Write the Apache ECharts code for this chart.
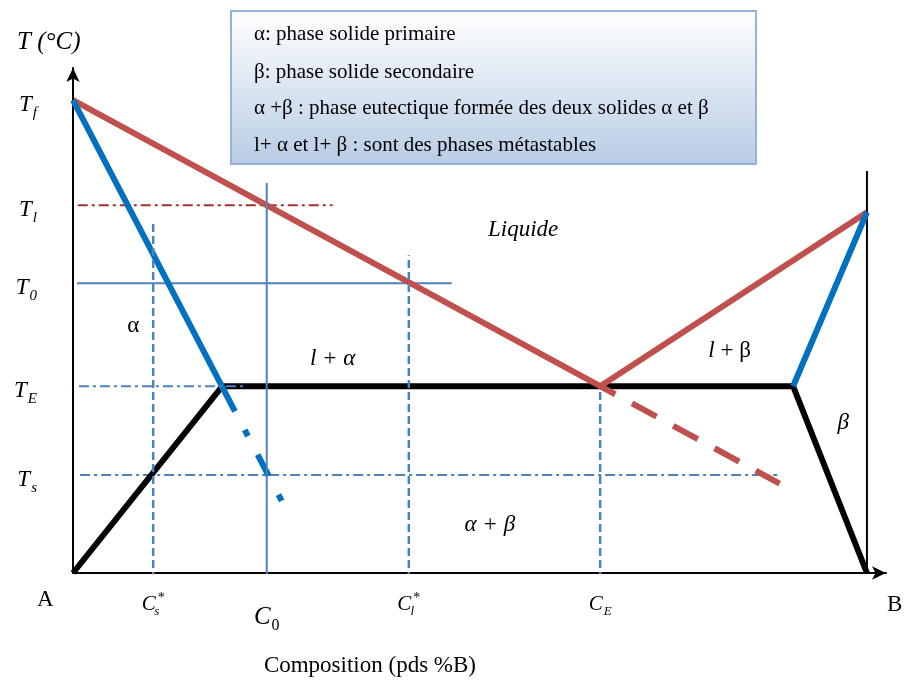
<!DOCTYPE html>
<html>
<head>
<meta charset="utf-8">
<script src="https://cdn.jsdelivr.net/npm/echarts@6/dist/echarts.min.js"></script>
<style>
  html, body { margin: 0; padding: 0; background: #ffffff; }
  #chart { width: 906px; height: 684px; }
</style>
</head>
<body>
<div id="chart"></div>
<script>
const SERIF = '"Liberation Serif", "Times New Roman", serif';

// Characteristic compositions (% B) and their tick labels
const compValues = [10.1, 24.4, 42.3, 66.4];
const compLabels = ['{m|C}{z|s}{sup|*}', '{mb|C}{n|0}', '{m|C}{z|l}{sup|*}', '{m|C}{s|E}'];

// Characteristic temperatures and their tick labels
const tempValues = [100, 77.8, 61.3, 39.5, 20.7];
const tempLabels = ['{m|T}{s|f}', '{m|T}{s|l}', '{m|T}{s|0}', '{m|T}{s|E}', '{m|T}{s|s}'];

// Phase boundaries, points are [composition, temperature]
const liquidusA = [[0, 100], [66.4, 39.5], [68.3, 37.8]];
const liquidusAMetastable = [[68.3, 37.8], [89.0, 18.9]];
const liquidusB = [[66.4, 39.5], [100, 76.3]];
const solidusA = [[0, 100], [20.4, 34.2]];
const solidusAMetastable = [[20.4, 34.2], [27.3, 12.0]];
const solidusB = [[90.7, 39.5], [100, 76.3]];
const eutecticBoundary = [[0, 0], [18.8, 39.5], [90.7, 39.5], [100, 0]];
const pureB = [[100, 0], [100, 85]];

// Construction lines
const lineTl = [[0.6, 77.8], [32.7, 77.8]];
const lineT0 = [[0.5, 61.3], [47.7, 61.3]];
const lineTE = [[0.75, 39.5], [21.9, 39.5]];
const lineTs = [[0.9, 20.7], [88.7, 20.7]];
const lineCs = [[10.1, -1.5], [10.1, 74.0]];
const lineC0 = [[24.4, -2.1], [24.4, 82.5]];
const lineCl = [[42.3, -1.5], [42.3, 67.2]];
const lineCE = [[66.4, -1.5], [66.4, 38.7]];

// Region names and the notes box
const regionTexts = ['{i|Liquide}', '{r|α}', '{i|l + α}', '{i|l}{r| + β}', '{i|β}', '{i|α + β}', '{r|A}', '{r|B}', '{r|Composition (pds %B)}'];
const notes = [
  'α: phase solide primaire',
  'β: phase solide secondaire',
  'α +β : phase eutectique formée des deux solides α et β',
  'l+ α et l+ β : sont des phases métastables'
];

// Where each region name sits, in [composition, temperature]
const regionAnchors = [[56.7, 72.5], [7.6, 52.2], [32.7, 45.3], [82.7, 47.0], [97.0, 31.7], [52.5, 10.1], [-3.5, -5.6], [103.5, -6.8], [37.4, -19.6]];

const RED = '#C0504D';
const BLUE = '#0070C0';
const THIN = '#4F81BD';
const BROWN = '#A3322E';
const DASH = [8, 4];
const DASHDOT = [10, 4, 3, 4];

function seg(data, color, width, type, z, dashOffset) {
  return {
    type: 'line',
    data: data,
    symbol: 'none',
    silent: true,
    animation: false,
    z: z,
    lineStyle: { color: color, width: width, type: type, dashOffset: dashOffset || 0, cap: 'butt', join: 'miter' }
  };
}

const chart = echarts.init(document.getElementById('chart'), null, { renderer: 'canvas' });

const labelText = { color: '#000', opacity: 1, textBorderWidth: 0, textBorderColor: 'transparent', textShadowBlur: 0 };

const option = {
  backgroundColor: '#ffffff',
  animation: false,
  grid: { left: 73, right: 20, top: 68, bottom: 111 },
  xAxis: {
    type: 'value',
    min: 0,
    max: 102.4,
    splitLine: { show: false },
    axisTick: { show: false },
    axisLine: { show: true, onZero: false, symbol: ['none', 'arrow'], symbolSize: [10, 14], lineStyle: { color: '#000', width: 2 } },
    axisLabel: {
      customValues: compValues,
      margin: 18,
      formatter: function (v) { return compLabels[compValues.indexOf(v)]; },
      rich: {
        m: { fontFamily: SERIF, fontStyle: 'italic', fontSize: 21, color: '#000', verticalAlign: 'middle' },
        mb: { fontFamily: SERIF, fontStyle: 'italic', fontSize: 25, color: '#000', verticalAlign: 'middle', padding: [10, 0, 0, 0] },
        n: { fontFamily: SERIF, fontSize: 16, color: '#000', verticalAlign: 'middle', padding: [27, 0, 0, 1] },
        s: { fontFamily: SERIF, fontStyle: 'italic', fontSize: 13, color: '#000', verticalAlign: 'middle', padding: [14, 0, 0, 1] },
        z: { fontFamily: SERIF, fontStyle: 'italic', fontSize: 13, color: '#000', verticalAlign: 'middle', padding: [14, 0, 0, 1], width: 0 },
        sup: { fontFamily: SERIF, fontSize: 14, color: '#000', verticalAlign: 'middle', padding: [0, 0, 12, 1] }
      }
    }
  },
  yAxis: {
    type: 'value',
    min: 0,
    max: 106.8,
    splitLine: { show: false },
    axisTick: { show: false },
    axisLine: { show: true, onZero: false, symbol: ['none', 'arrow'], symbolSize: [10, 14], lineStyle: { color: '#000', width: 2 } },
    axisLabel: {
      customValues: tempValues,
      margin: 36,
      formatter: function (v) { return tempLabels[tempValues.indexOf(v)]; },
      rich: {
        m: { fontFamily: SERIF, fontStyle: 'italic', fontSize: 23, color: '#000', verticalAlign: 'middle', padding: [10, 0, 0, 0] },
        s: { fontFamily: SERIF, fontStyle: 'italic', fontSize: 15, color: '#000', verticalAlign: 'middle', padding: [26, 0, 0, 1] }
      }
    }
  },
  series: [
    // construction lines
    seg(lineTl, BROWN, 2, DASHDOT, 3),
    seg(lineT0, THIN, 2, 'solid', 3),
    seg(lineTE, THIN, 2, DASHDOT, 5),
    seg(lineTs, THIN, 2, DASHDOT, 3),
    seg(lineCs, THIN, 2.5, DASH, 5),
    seg(lineC0, THIN, 2, 'solid', 5),
    seg(lineCl, THIN, 2.5, DASH, 5),
    seg(lineCE, THIN, 2.5, DASH, 5),
    // pure B edge
    seg(pureB, '#000', 2, 'solid', 2),
    // phase boundaries
    seg(eutecticBoundary, '#000', 6, 'solid', 4),
    seg(liquidusA, RED, 6, 'solid', 4),
    seg(liquidusAMetastable, RED, 6, [28, 19], 4, 28),
    seg(liquidusB, RED, 6, 'solid', 4),
    seg(solidusA, BLUE, 6, 'solid', 4),
    seg(solidusAMetastable, BLUE, 6, [24, 21, 7, 21], 4, 24),
    seg(solidusB, BLUE, 6, 'solid', 4),
    // region names
    {
      type: 'scatter',
      silent: true,
      animation: false,
      clip: false,
      symbolSize: 0,
      z: 6,
      itemStyle: { color: '#000', opacity: 1 },
      data: regionAnchors.map(function (p, i) {
        return { value: p, label: { formatter: regionTexts[i] } };
      }),
      label: Object.assign({
        show: true,
        position: 'inside',
        rich: {
          i: Object.assign({ fontFamily: SERIF, fontStyle: 'italic', fontSize: 23 }, labelText),
          r: Object.assign({ fontFamily: SERIF, fontSize: 23 }, labelText)
        }
      }, labelText)
    }
  ],
  graphic: [
    {
      type: 'text',
      left: 17,
      top: 30,
      style: { text: 'T (°C)', font: 'italic 25px ' + SERIF, fill: '#000' }
    },
    {
      type: 'group',
      left: 230,
      top: 10,
      children: [
        {
          type: 'rect',
          shape: { x: 0, y: 0, width: 525, height: 153 },
          style: {
            fill: new echarts.graphic.LinearGradient(0, 0, 0, 1, [
              { offset: 0, color: '#FFFFFF' },
              { offset: 1, color: '#B8CCE4' }
            ]),
            stroke: '#95B3D7',
            lineWidth: 2
          }
        }
      ].concat(notes.map(function (t, i) {
        return {
          type: 'text',
          x: 23,
          y: [23, 61, 97, 134][i],
          style: { text: t, font: '21px ' + SERIF, fill: '#000', verticalAlign: 'middle' }
        };
      }))
    }
  ]
};

chart.setOption(option);
</script>
</body>
</html>
